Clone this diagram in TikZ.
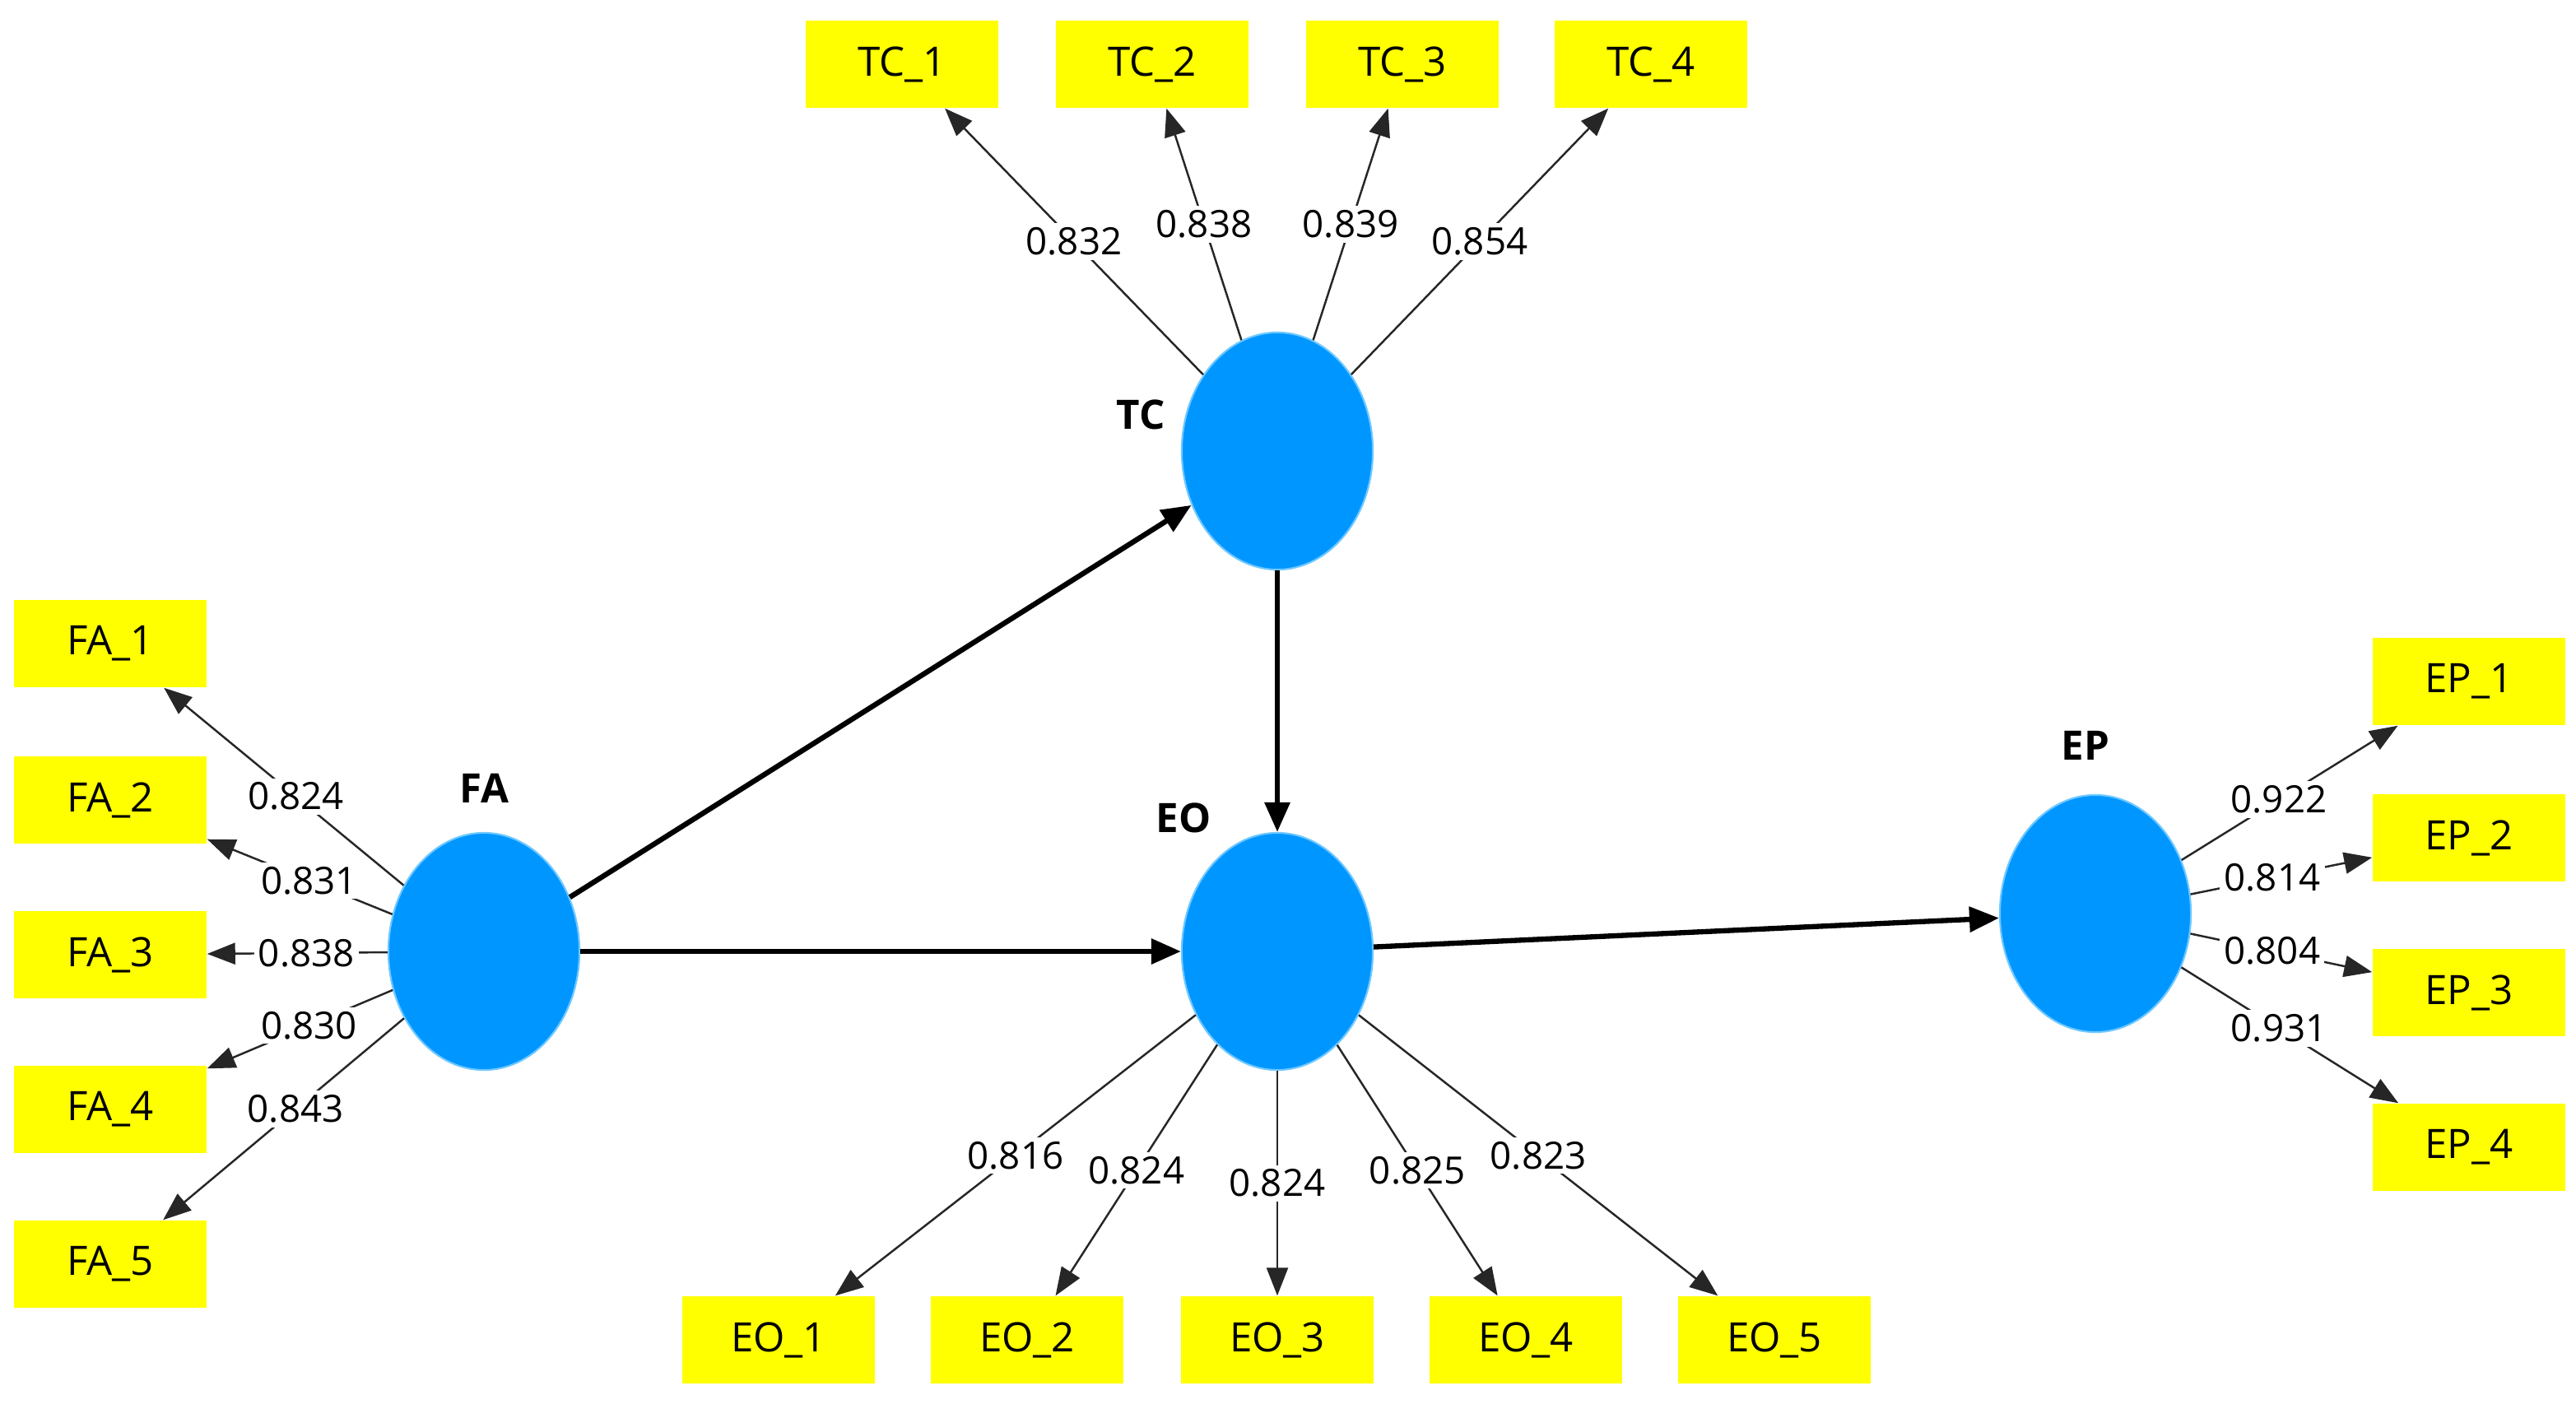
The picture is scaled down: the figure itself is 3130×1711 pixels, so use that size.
\documentclass[tikz,border=0pt]{standalone}
\usepackage{fontspec}
\setmainfont{Open Sans}
\usetikzlibrary{arrows.meta,shapes.geometric}
\definecolor{lv}{RGB}{0,150,255}
\definecolor{lvb}{RGB}{110,200,255}
\definecolor{ind}{RGB}{255,255,0}
\begin{document}
\begin{tikzpicture}[x=0.01cm,y=-0.01cm,
 lat/.style={ellipse,fill=lv,draw=lvb,line width=0.6pt,minimum width=2.32cm,minimum height=2.88cm,inner sep=0pt},
 box/.style={fill=ind,minimum width=2.34cm,minimum height=1.06cm,inner sep=0pt,font=\fontsize{14}{16}\selectfont},
 lab/.style={font=\bfseries\fontsize{14}{16}\selectfont},
 ld/.style={draw=black!85,line width=0.7pt,-{Triangle[length=0.34cm,width=0.26cm]}},
 num/.style={fill=white,inner sep=1.5pt,font=\fontsize{13}{15}\selectfont},
 path/.style={draw,line width=1.8pt,-{Triangle[length=0.36cm,width=0.3cm]}}]
\useasboundingbox (0,0) rectangle (3130,1711);
\node[lat] (TC) at (1552,548) {};
\node[lat] (FA) at (588,1156) {};
\node[lat] (EO) at (1552,1156) {};
\node[lat] (EP) at (2546,1110) {};
\node[lab] (TCl) at (1386,504) {TC};
\node[lab] (FAl) at (588,958) {FA};
\node[lab] (EOl) at (1438,994) {EO};
\node[lab] (EPl) at (2534,906) {EP};
\node[box] (TC1) at (1096,78) {TC\_1};
\node[box] (TC2) at (1400,78) {TC\_2};
\node[box] (TC3) at (1704,78) {TC\_3};
\node[box] (TC4) at (2006,78) {TC\_4};
\node[box] (FA1) at (134,782) {FA\_1};
\node[box] (FA2) at (134,972) {FA\_2};
\node[box] (FA3) at (134,1160) {FA\_3};
\node[box] (FA4) at (134,1348) {FA\_4};
\node[box] (FA5) at (134,1536) {FA\_5};
\node[box] (EO1) at (946,1628) {EO\_1};
\node[box] (EO2) at (1248,1628) {EO\_2};
\node[box] (EO3) at (1552,1628) {EO\_3};
\node[box] (EO4) at (1854,1628) {EO\_4};
\node[box] (EO5) at (2156,1628) {EO\_5};
\node[box] (EP1) at (3000,828) {EP\_1};
\node[box] (EP2) at (3000,1018) {EP\_2};
\node[box] (EP3) at (3000,1206) {EP\_3};
\node[box] (EP4) at (3000,1394) {EP\_4};
\draw[ld] (TC) -- (TC1) node[num,midway] {0.832};
\draw[ld] (TC) -- (TC2) node[num,midway] {0.838};
\draw[ld] (TC) -- (TC3) node[num,midway] {0.839};
\draw[ld] (TC) -- (TC4) node[num,midway] {0.854};
\draw[ld] (FA) -- (FA1) node[num,pos=0.45] {0.824};
\draw[ld] (FA) -- (FA2) node[num,pos=0.45] {0.831};
\draw[ld] (FA) -- (FA3) node[num,pos=0.45] {0.838};
\draw[ld] (FA) -- (FA4) node[num,pos=0.45] {0.830};
\draw[ld] (FA) -- (FA5) node[num,pos=0.45] {0.843};
\draw[ld] (EO) -- (EO1) node[num,midway] {0.816};
\draw[ld] (EO) -- (EO2) node[num,midway] {0.824};
\draw[ld] (EO) -- (EO3) node[num,midway] {0.824};
\draw[ld] (EO) -- (EO4) node[num,midway] {0.825};
\draw[ld] (EO) -- (EO5) node[num,midway] {0.823};
\draw[ld] (EP) -- (EP1) node[num,pos=0.45] {0.922};
\draw[ld] (EP) -- (EP2) node[num,pos=0.45] {0.814};
\draw[ld] (EP) -- (EP3) node[num,pos=0.45] {0.804};
\draw[ld] (EP) -- (EP4) node[num,pos=0.45] {0.931};
\draw[path] (FA) -- (TC);
\draw[path] (FA) -- (EO);
\draw[path] (TC) -- (EO);
\draw[path] (EO) -- (EP);
\end{tikzpicture}
\end{document}
